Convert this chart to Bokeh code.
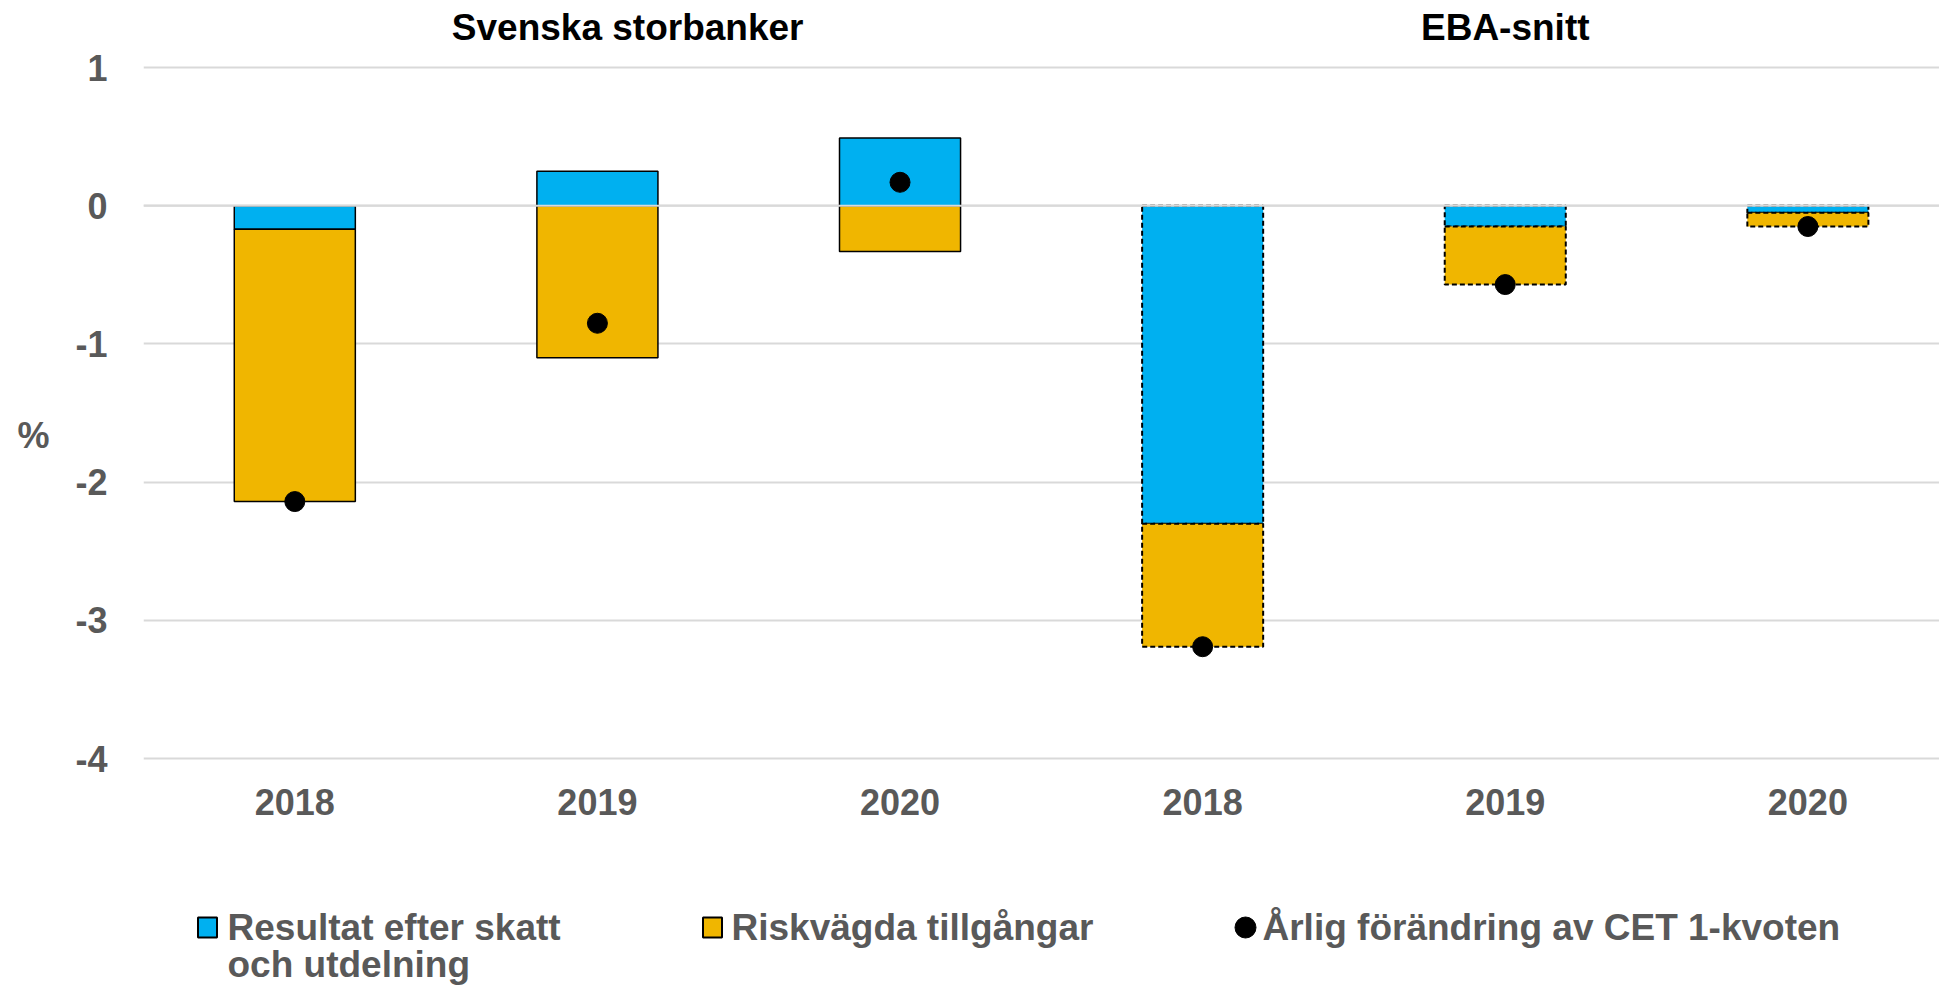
from bokeh.plotting import figure
from bokeh.layouts import row, column
from bokeh.models import ColumnDataSource, FixedTicker, Range1d, Span
from bokeh.core.properties import value
from bokeh.embed import file_html
from bokeh.resources import INLINE

# ---- data ----
groups = ["Svenska storbanker", "EBA-snitt"]
years = ["2018", "2019", "2020"]
resultat_svenska = [-0.17, 0.25, 0.49]
riskvagda_svenska = [-1.97, -1.10, -0.33]
cet1_svenska = [-2.14, -0.85, 0.17]
resultat_eba = [-2.30, -0.15, -0.05]
riskvagda_eba = [-0.89, -0.42, -0.10]
cet1_eba = [-3.19, -0.57, -0.15]
y_ticks = [-4, -3, -2, -1, 0, 1]
y_tick_labels = ["-4", "-3", "-2", "-1", "0", "1"]
legend_lines = [["Resultat efter skatt", "och utdelning"], ["Riskvägda tillgångar"],
                ["Årlig förändring av CET 1-kvoten"]]
unit_label = "%"

BLUE = "#00B0F0"
GOLD = "#F0B600"
GREY = "#595959"
FONT = "Liberation Sans"

FRAME_H = 772
BOTTOM = 70
PAGE_H = 986
Y_RANGE = Range1d(-4.1, 1.485)


def stacked(res, risk, offset):
    xs = [offset + i for i in range(len(res))]
    b_bot = [0.0] * len(res)
    b_top = list(res)
    g_bot = [r if (r < 0) == (k < 0) else 0.0 for r, k in zip(res, risk)]
    g_top = [b + k for b, k in zip(g_bot, risk)]
    return (ColumnDataSource(dict(x=xs, bottom=b_bot, top=b_top)),
            ColumnDataSource(dict(x=xs, bottom=g_bot, top=g_top)))


def bare(fig):
    fig.outline_line_color = None
    fig.grid.grid_line_color = None
    return fig


# ---- narrow panel holding the unit label ----
pf = bare(figure(frame_width=60, frame_height=FRAME_H, output_backend="svg", toolbar_location=None,
                 x_range=Range1d(0, 60), y_range=Y_RANGE, x_axis_type=None, y_axis_type=None,
                 min_border_left=0, min_border_right=0, min_border_top=0,
                 min_border_bottom=BOTTOM))
pf.text(x=[33], y=[-1.663], text=[unit_label], text_font=value(FONT), text_font_style="bold",
        text_font_size="36px", text_color=GREY, text_align="center", text_baseline="middle")

# ---- main chart ----
p = figure(frame_width=1796, frame_height=FRAME_H, output_backend="svg", toolbar_location=None,
           x_range=Range1d(-0.5, 5.435), y_range=Y_RANGE,
           min_border_left=83, min_border_right=0, min_border_top=0, min_border_bottom=BOTTOM)
p.outline_line_color = None

p.ygrid.ticker = FixedTicker(ticks=y_ticks)
p.ygrid.grid_line_color = "#D9D9D9"
p.ygrid.grid_line_width = 2
p.xgrid.grid_line_color = None

p.yaxis.ticker = FixedTicker(ticks=y_ticks)
p.yaxis.major_label_overrides = dict(zip(y_ticks, y_tick_labels))
p.xaxis.ticker = FixedTicker(ticks=list(range(6)))
p.xaxis.major_label_overrides = {i: y for i, y in enumerate(years + years)}
for ax in (p.xaxis[0], p.yaxis[0]):
    ax.axis_line_color = None
    ax.major_tick_line_color = None
    ax.minor_tick_line_color = None
    ax.major_label_text_font = FONT
    ax.major_label_text_font_style = "bold"
    ax.major_label_text_font_size = "36px"
    ax.major_label_text_color = GREY
p.yaxis.major_label_standoff = 30
p.xaxis.major_label_standoff = 10

sb, sg = stacked(resultat_svenska, riskvagda_svenska, 0)
eb, eg = stacked(resultat_eba, riskvagda_eba, 3)

p.vbar(x="x", bottom="bottom", top="top", width=0.4, source=sb,
       fill_color=BLUE, line_color="black", line_width=1.5)
p.vbar(x="x", bottom="bottom", top="top", width=0.4, source=sg,
       fill_color=GOLD, line_color="black", line_width=1.5)
p.vbar(x="x", bottom="bottom", top="top", width=0.4, source=eb,
       fill_color=BLUE, line_color="black", line_width=2, line_dash="5 3")
p.vbar(x="x", bottom="bottom", top="top", width=0.4, source=eg,
       fill_color=GOLD, line_color="black", line_width=2, line_dash="5 3")

p.add_layout(Span(location=0, dimension="width", line_color="#D9D9D9", line_width=2))

dots = ColumnDataSource(dict(x=list(range(6)), y=cet1_svenska + cet1_eba))
p.scatter(x="x", y="y", source=dots, size=20, marker="circle",
          fill_color="black", line_color="black")

titles = ColumnDataSource(dict(x=[1.1, 4.0], y=[1.29, 1.29], t=groups))
p.text(x="x", y="y", text="t", source=titles, text_font=value(FONT),
       text_font_style="bold", text_font_size="37px", text_color="black",
       text_align="center", text_baseline="middle")

# ---- legend strip (pixel units, y measured downward from the strip top) ----
LEG_H = PAGE_H - FRAME_H - BOTTOM
lf = bare(figure(frame_width=1939, frame_height=LEG_H, output_backend="svg", toolbar_location=None,
                 x_range=Range1d(0, 1939), y_range=Range1d(LEG_H, 0),
                 x_axis_type=None, y_axis_type=None,
                 min_border_left=0, min_border_right=0, min_border_top=0, min_border_bottom=0))
sw_y = 85
lf.rect(x=[207, 712], y=[sw_y, sw_y], width=19, height=20, fill_color=[BLUE, GOLD],
        line_color="black", line_width=2)
lf.scatter(x=[1245], y=[sw_y], size=21, marker="circle", fill_color="black", line_color="black")
leg_text = ColumnDataSource(dict(
    x=[227, 227, 731, 1262],
    y=[85, 122, 85, 85],
    t=[legend_lines[0][0], legend_lines[0][1], legend_lines[1][0], legend_lines[2][0]]))
lf.text(x="x", y="y", text="t", source=leg_text, text_font=value(FONT),
        text_font_style="bold", text_font_size="37px", text_color=GREY,
        text_align="left", text_baseline="alphabetic")

layout = column(row(pf, p), lf)
open("out.html", "w").write(file_html(layout, INLINE))
